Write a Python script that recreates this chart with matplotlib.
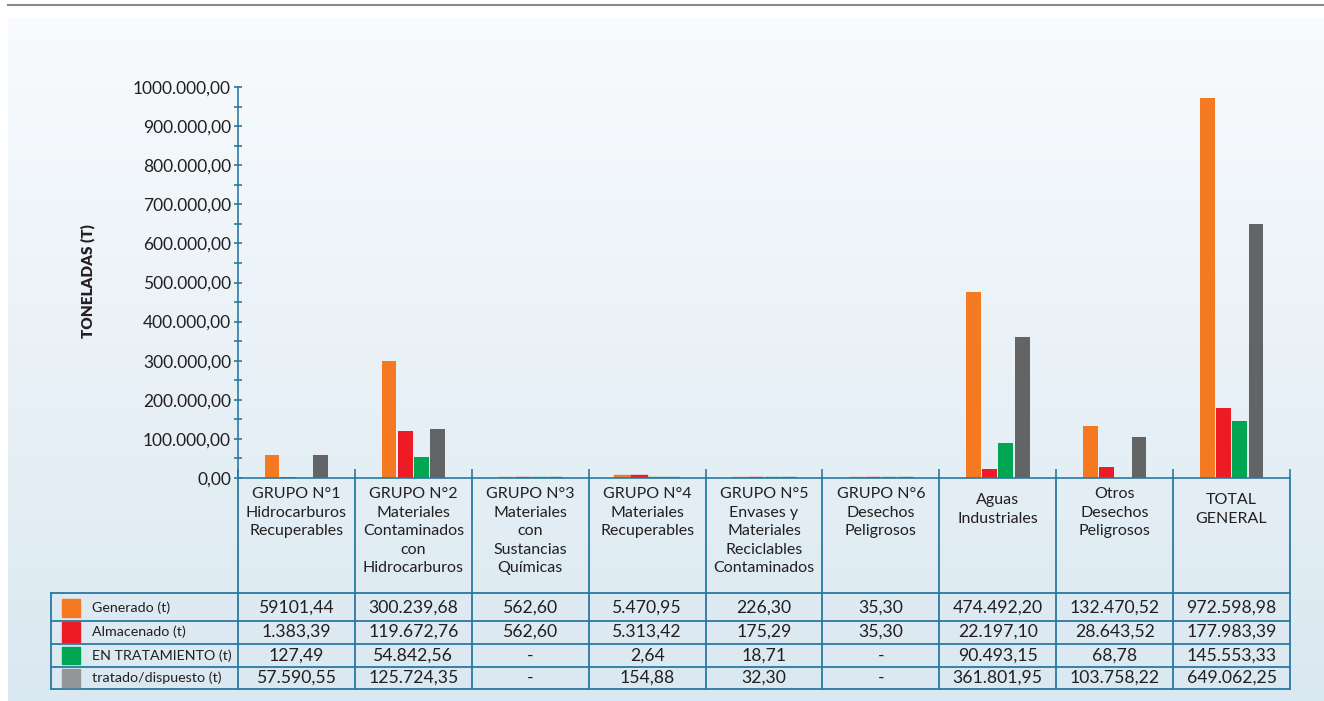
import numpy as np
import matplotlib
matplotlib.use("Agg")
import matplotlib.pyplot as plt
from matplotlib.ticker import FuncFormatter, MultipleLocator

plt.rcParams['font.family'] = ['Lato', 'DejaVu Sans']

# ---------------- data ----------------
categories = [
    "GRUPO N°1\nHidrocarburos\nRecuperables",
    "GRUPO N°2\nMateriales\nContaminados\ncon\nHidrocarburos",
    "GRUPO N°3\nMateriales\ncon\nSustancias\nQuímicas",
    "GRUPO N°4\nMateriales\nRecuperables",
    "GRUPO N°5\nEnvases y\nMateriales\nReciclables\nContaminados",
    "GRUPO N°6\nDesechos\nPeligrosos",
    "Aguas\nIndustriales",
    "Otros\nDesechos\nPeligrosos",
    "TOTAL\nGENERAL",
]
series_names = ["Generado (t)", "Almacenado (t)", "EN TRATAMIENTO (t)", "tratado/dispuesto (t)"]
generado = [59101.44, 300239.68, 562.60, 5470.95, 226.30, 35.30, 474492.20, 132470.52, 972598.98]
almacenado = [1383.39, 119672.76, 562.60, 5313.42, 175.29, 35.30, 22197.10, 28643.52, 177983.39]
tratamiento = [127.49, 54842.56, 0.0, 2.64, 18.71, 0.0, 90493.15, 68.78, 145553.33]
tratado = [57590.55, 125724.35, 0.0, 154.88, 32.30, 0.0, 361801.95, 103758.22, 649062.25]

generado_txt = ["59101,44", "300.239,68", "562,60", "5.470,95", "226,30", "35,30", "474.492,20", "132.470,52", "972.598,98"]
almacenado_txt = ["1.383,39", "119.672,76", "562,60", "5.313,42", "175,29", "35,30", "22.197,10", "28.643,52", "177.983,39"]
tratamiento_txt = ["127,49", "54.842,56", "-", "2,64", "18,71", "-", "90.493,15", "68,78", "145.553,33"]
tratado_txt = ["57.590,55", "125.724,35", "-", "154,88", "32,30", "-", "361.801,95", "103.758,22", "649.062,25"]

y_ticks = [0, 100000, 200000, 300000, 400000, 500000, 600000, 700000, 800000, 900000, 1000000]
y_label = "TONELADAS (T)"

# ---------------- style ----------------
W, H = 1324, 701
bar_colors = ["#f47920", "#ed1c24", "#00a651", "#636466"]
legend_colors = ["#f47920", "#ed1c24", "#00a651", "#939598"]
line_c = "#2a7aa2"
txt_c = "#231f20"

fig = plt.figure(figsize=(W / 100, H / 100), dpi=100)

# background / overlay in pixel coordinates
bg = fig.add_axes([0, 0, 1, 1], zorder=0)
bg.set_xlim(0, W)
bg.set_ylim(H, 0)
bg.axis("off")
grad = np.linspace(0, 1, 256).reshape(-1, 1)
top = np.array([0.975, 0.984, 0.993])
bot = np.array([0.855, 0.910, 0.945])
img = top[None, None, :] * (1 - grad[..., None]) + bot[None, None, :] * grad[..., None]
bg.imshow(img, extent=[8, W, H, 18], aspect="auto", zorder=0)
bg.plot([8, W], [5, 5], color="#8a8a8a", lw=1.5, zorder=1)

# chart axes
x0, x1 = 238, 1290
y0, y1 = 478, 87
ax = fig.add_axes([x0 / W, (H - y0) / H, (x1 - x0) / W, (y0 - y1) / H], zorder=2)
ax.patch.set_alpha(0)
n = len(categories)
ax.set_xlim(-0.5, n - 0.5)
ax.set_ylim(0, 1000000)

series = [generado, almacenado, tratamiento, tratado]
xs = np.arange(n)
step = 0.139
bw = 0.127
small_groups = [2, 3, 4, 5]
for k, (vals, col) in enumerate(zip(series, bar_colors)):
    off = (k - 1.5) * step
    bars = ax.bar(xs + off, vals, width=bw, color=col, zorder=1)
    for gi in small_groups:
        bars[gi].set_edgecolor(col)
        bars[gi].set_linewidth(2.4)

def fmt(v, pos):
    v = int(round(v))
    if v == 0:
        return "0,00"
    return f"{v // 1000}.{v % 1000:03d},00"

ax.yaxis.set_major_locator(matplotlib.ticker.FixedLocator(y_ticks))
ax.yaxis.set_minor_locator(MultipleLocator(50000))
ax.yaxis.set_major_formatter(FuncFormatter(fmt))
ax.tick_params(axis="y", which="both", direction="inout", length=6, width=1.2,
               color=line_c, labelsize=12.5, labelcolor=txt_c, pad=2)
ax.set_xticks(np.arange(n + 1) - 0.5)
ax.set_xticklabels([])
ax.tick_params(axis="x", direction="in", length=6.5, width=1.2, color=line_c)
for s in ["top", "right"]:
    ax.spines[s].set_visible(False)
for s in ["left", "bottom"]:
    ax.spines[s].set_color(line_c)
    ax.spines[s].set_linewidth(1.2)
    ax.spines[s].set_zorder(4)

bg.text(88, 281, y_label, rotation=90, ha="center", va="center",
        fontsize=11, fontweight="heavy", color=txt_c)

# ---------------- table ----------------
colw = (x1 - x0) / n
lx = 51
row_lines = [593, 621, 644, 667, 689]
for yy in row_lines:
    bg.plot([lx, x1], [yy, yy], color=line_c, lw=1.3, zorder=2)
for i in range(n + 1):
    xx = x0 + i * colw
    bg.plot([xx, xx], [y0, 689], color=line_c, lw=1.3, zorder=2)
bg.plot([lx, lx], [593, 689], color=line_c, lw=1.3, zorder=2)

header_top = [487, 487, 487, 487, 487, 487, 493, 487, 493]
for i, cat in enumerate(categories):
    cx = x0 + (i + 0.5) * colw
    bg.text(cx, header_top[i], cat, ha="center", va="top", fontsize=11.5,
            linespacing=1.42, color=txt_c, zorder=3)

texts = [generado_txt, almacenado_txt, tratamiento_txt, tratado_txt]
row_centers = [608, 632, 655.5, 678]
sq = [(599, 617), (621.5, 642), (647, 664), (669, 687)]
for r in range(4):
    bg.add_patch(plt.Rectangle((62, sq[r][0]), 18, sq[r][1] - sq[r][0],
                               color=legend_colors[r], zorder=3))
    bg.text(92, row_centers[r], series_names[r], ha="left", va="center",
            fontsize=10.3, color=txt_c, zorder=3)
    for i in range(n):
        cx = x0 + (i + 0.5) * colw
        bg.text(cx, row_centers[r], texts[r][i], ha="center", va="center",
                fontsize=12.7, color=txt_c, zorder=3)

fig.savefig("out.png", dpi=100)
